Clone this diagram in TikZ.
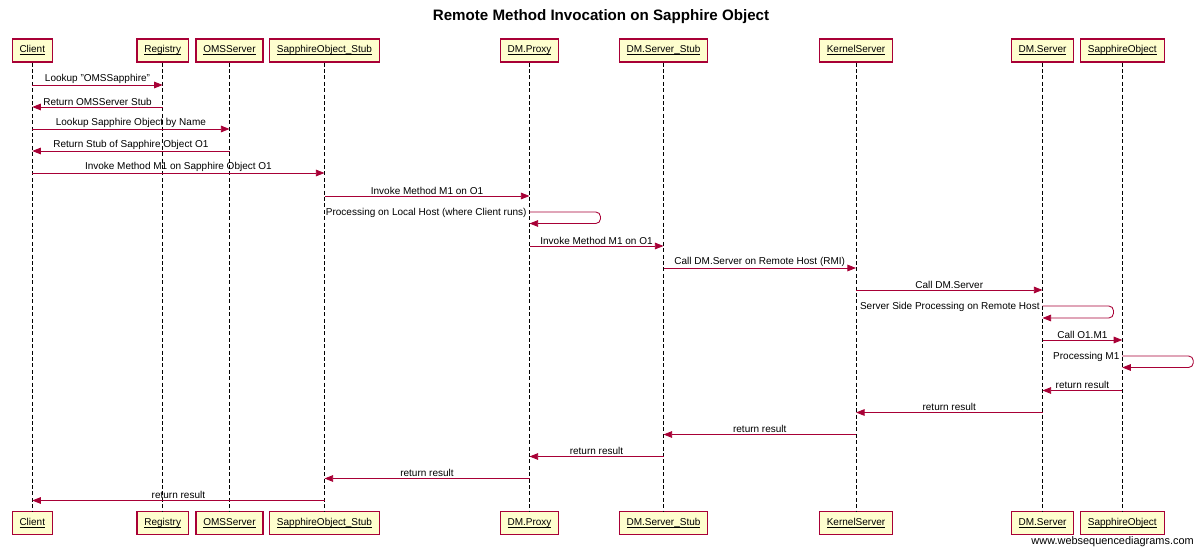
\documentclass[tikz,border=0pt]{standalone}
\usepackage{fontspec}
\setmainfont{Liberation Sans}
\usetikzlibrary{arrows.meta}
\definecolor{wsdred}{HTML}{A80036}
\definecolor{wsdfill}{HTML}{FEFECE}
\newcommand\wsdpart[1]{\underline{\smash{#1}\vphantom{A}}}
\begin{document}
\begin{tikzpicture}[x=0.75pt,y=-0.75pt,
  actor/.style={draw=wsdred,fill=wsdfill,line width=0.9pt,minimum height=17.25pt,
    inner xsep=5.5pt,inner ysep=0pt,font=\fontsize{7.5}{9}\selectfont},
  lifeline/.style={draw=black,line width=0.7pt,dash pattern=on 3pt off 1.8pt},
  msg/.style={draw=wsdred,line width=0.65pt,-{Triangle[length=6.5pt,width=5pt]}},
  selfmsg/.style={msg,rounded corners=3.5pt},
  lbl/.style={font=\fontsize{7.5}{9}\selectfont,above=0.3pt,inner sep=0.5pt,text=black},
  slbl/.style={font=\fontsize{7.5}{9}\selectfont,anchor=east,inner sep=1pt,text=black}]
\useasboundingbox[fill=white] (0,0) rectangle (1200,553);
\node[font=\bfseries\fontsize{11.35}{13}\selectfont] (title) at (601,17) {Remote Method Invocation on Sapphire Object};
% participants (top)
\node[actor] (client) at (32.3,50.5) {\wsdpart{Client}};
\node[actor] (registry) at (162.7,50.5) {\wsdpart{Registry}};
\node[actor] (oms) at (229.5,50.5) {\wsdpart{OMSServer}};
\node[actor] (stub) at (324.5,50.5) {\wsdpart{SapphireObject\_Stub}};
\node[actor] (proxy) at (529.5,50.5) {\wsdpart{DM.Proxy}};
\node[actor] (dstub) at (663.5,50.5) {\wsdpart{DM.Server\_Stub}};
\node[actor] (kernel) at (856,50.5) {\wsdpart{KernelServer}};
\node[actor] (dms) at (1042.5,50.5) {\wsdpart{DM.Server}};
\node[actor] (so) at (1122.3,50.5) {\wsdpart{SapphireObject}};
% participants (bottom)
\node[actor] (clientb) at (32.3,523) {\wsdpart{Client}};
\node[actor] (registryb) at (162.7,523) {\wsdpart{Registry}};
\node[actor] (omsb) at (229.5,523) {\wsdpart{OMSServer}};
\node[actor] (stubb) at (324.5,523) {\wsdpart{SapphireObject\_Stub}};
\node[actor] (proxyb) at (529.5,523) {\wsdpart{DM.Proxy}};
\node[actor] (dstubb) at (663.5,523) {\wsdpart{DM.Server\_Stub}};
\node[actor] (kernelb) at (856,523) {\wsdpart{KernelServer}};
\node[actor] (dmsb) at (1042.5,523) {\wsdpart{DM.Server}};
\node[actor] (sob) at (1122.3,523) {\wsdpart{SapphireObject}};
% lifelines
\foreach \p in {client,registry,oms,stub,proxy,dstub,kernel,dms,so}
  \draw[lifeline] (\p.south) -- (\p b.north);
% messages
\draw[msg] (client |- 0,85) -- node[lbl]{Lookup "OMSSapphire"} (registry |- 0,85);
\draw[msg] (registry |- 0,107) -- node[lbl]{Return OMSServer Stub} (client |- 0,107);
\draw[msg] (client |- 0,129) -- node[lbl]{Lookup Sapphire Object by Name} (oms |- 0,129);
\draw[msg] (oms |- 0,151) -- node[lbl]{Return Stub of Sapphire Object O1} (client |- 0,151);
\draw[msg] (client |- 0,173) -- node[lbl]{Invoke Method M1 on Sapphire Object O1} (stub |- 0,173);
\draw[msg] (stub |- 0,196) -- node[lbl]{Invoke Method M1 on O1} (proxy |- 0,196);
\draw[selfmsg] (proxy |- 0,212) -| ++(71,11.5) -- (proxy |- 0,223.5);
\node[slbl] (l7) at ([xshift=-1pt]proxy |- 0,213) {Processing on Local Host (where Client runs)};
\draw[msg] (proxy |- 0,246) -- node[lbl]{Invoke Method M1 on O1} (dstub |- 0,246);
\draw[msg] (dstub |- 0,268) -- node[lbl]{Call DM.Server on Remote Host (RMI)} (kernel |- 0,268);
\draw[msg] (kernel |- 0,290) -- node[lbl]{Call DM.Server} (dms |- 0,290);
\draw[selfmsg] (dms |- 0,306) -| ++(71,12) -- (dms |- 0,318);
\node[slbl] (l11) at ([xshift=-1pt]dms |- 0,307) {Server Side Processing on Remote Host};
\draw[msg] (dms |- 0,340) -- node[lbl]{Call O1.M1} (so |- 0,340);
\draw[selfmsg] (so |- 0,356) -| ++(71,11.5) -- (so |- 0,367.5);
\node[slbl] (l13) at ([xshift=-1pt]so |- 0,357) {Processing M1};
\draw[msg] (so |- 0,390.5) -- node[lbl]{return result} (dms |- 0,390.5);
\draw[msg] (dms |- 0,412.5) -- node[lbl]{return result} (kernel |- 0,412.5);
\draw[msg] (kernel |- 0,434.5) -- node[lbl]{return result} (dstub |- 0,434.5);
\draw[msg] (dstub |- 0,456.5) -- node[lbl]{return result} (proxy |- 0,456.5);
\draw[msg] (proxy |- 0,478.5) -- node[lbl]{return result} (stub |- 0,478.5);
\draw[msg] (stub |- 0,500.5) -- node[lbl]{return result} (client |- 0,500.5);
\node[font=\fontsize{8.2}{10}\selectfont,anchor=east,inner sep=0pt] (footer) at (1194,541.5) {www.websequencediagrams.com};
\end{tikzpicture}
\end{document}
